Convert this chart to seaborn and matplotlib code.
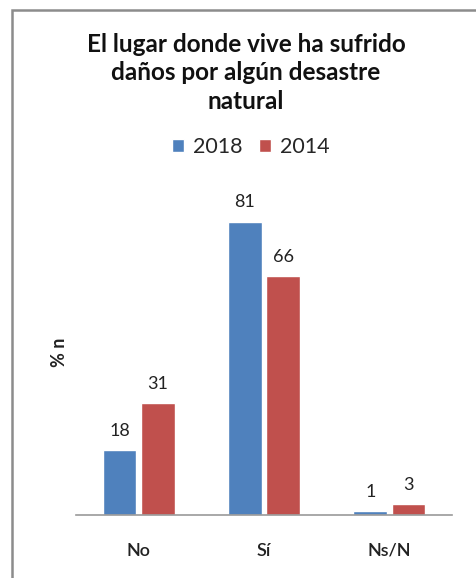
import pandas as pd
import numpy as np
import matplotlib
matplotlib.use('Agg')
import matplotlib.pyplot as plt
import seaborn as sns
from matplotlib.patches import Rectangle

# data
categorias = ['No', 'Sí', 'Ns/N']
anios = ['2018', '2014']
valores_2018 = [18, 81, 1]
valores_2014 = [31, 66, 3]
colores = ['#4F81BD', '#C0504D']

df = pd.DataFrame({
    'categoria': categorias * 2,
    'anio': [anios[0]] * 3 + [anios[1]] * 3,
    'valor': valores_2018 + valores_2014,
})

sns.set_theme(style='white')
plt.rcParams['font.family'] = ['Lato', 'DejaVu Sans']

fig = plt.figure(figsize=(4.77, 5.78), dpi=100)
ax = fig.add_axes([76 / 477, (578 - 515) / 578, (452 - 76) / 477, (515 - 189) / 578])

sns.barplot(data=df, x='categoria', y='valor', hue='anio', palette=colores,
            ax=ax, width=0.61, gap=0.12, saturation=1)
ax.set_ylim(0, 90)

for cont in ax.containers:
    ax.bar_label(cont, padding=8, fontsize=13, color='#222222')

ax.set_yticks([])
ax.set_xlabel('')
ax.set_ylabel('% n', fontsize=13, fontweight='bold', labelpad=6, color='#222222')
ax.tick_params(axis='x', length=0, pad=20, labelsize=13, labelcolor='#222222')
for lab in ax.get_xticklabels():
    lab.set_fontweight('semibold')
for s in ['top', 'right', 'left']:
    ax.spines[s].set_visible(False)
ax.spines['bottom'].set_color('#9a9a9a')
ax.spines['bottom'].set_linewidth(1.2)

# legend sits a bit left of the axes centre, like the original
leg = ax.legend(loc='upper center', bbox_to_anchor=(0.465, 1.22), ncol=2, frameon=False,
                fontsize=15.5, handlelength=0.55, handleheight=0.55, columnspacing=0.8,
                handletextpad=0.4)

fig.text(246 / 477, 1 - 73 / 578, 'El lugar donde vive ha sufrido\ndaños por algún desastre\nnatural',
         ha='center', va='center', fontsize=17.5, fontweight='bold', linespacing=1.3,
         color='#111111')

fig.patches.append(Rectangle((12 / 477, -0.05), 2.0, 1 - 10 / 578 + 0.05,
                             transform=fig.transFigure, fill=False,
                             edgecolor='#8c8c8c', linewidth=1.8))

fig.savefig('out.png', dpi=100, facecolor='white')
